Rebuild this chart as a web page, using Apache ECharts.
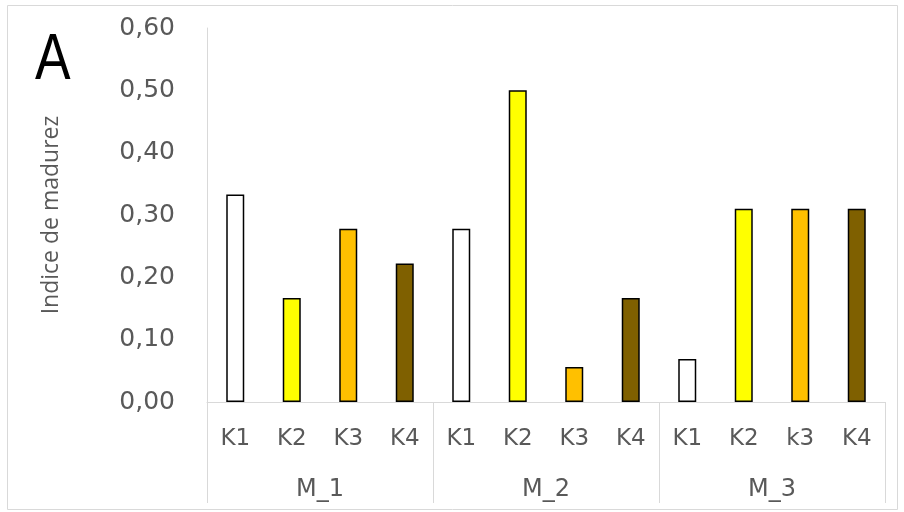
<!DOCTYPE html>
<html><head><meta charset="utf-8">
<script src="https://cdn.jsdelivr.net/npm/echarts@6/dist/echarts.min.js"></script>
<style>html,body{margin:0;padding:0;background:#fff}#c{width:904px;height:512px}</style>
</head><body><div id="c"></div>
<script>
const subCategories = ['K1','K2','K3','K4','K1','K2','K3','K4','K1','K2','k3','K4'];
const groups = ['M_1','M_2','M_3'];
const values = [0.333,0.167,0.278,0.222, 0.278,0.500,0.056,0.167, 0.069,0.310,0.310,0.310];
const kColors = ['#FFFFFF','#FFFF00','#FFC000','#7F6000'];
const yTicks = [0,0.1,0.2,0.3,0.4,0.5,0.6];

const chart = echarts.init(document.getElementById('c'));
const font = '"DejaVu Sans", "Open Sans", sans-serif';
chart.setOption({
  animation:false,
  grid:{left:207,right:19,top:28,bottom:110},
  graphic:[
    {type:'rect',shape:{x:7.5,y:5.5,width:890,height:504},style:{fill:'none',stroke:'#d9d9d9',lineWidth:1}},
    {type:'text',x:35,y:29,scaleX:0.82,style:{text:'A',x:0,y:0,fontSize:65,fontFamily:'"Liberation Sans", Arial, sans-serif',fill:'#000'}}
  ],
  xAxis:[
    {type:'category',data:subCategories,position:'bottom',
     axisLine:{lineStyle:{color:'#d9d9d9'}},axisTick:{show:false},
     axisLabel:{color:'#595959',fontSize:23,fontFamily:font,margin:26}},
    {type:'category',data:groups,position:'bottom',gridIndex:0,
     axisLine:{show:false},axisTick:{show:true,length:101,lineStyle:{color:'#d9d9d9'}},
     axisLabel:{color:'#595959',fontSize:24,fontFamily:font,margin:76}}
  ],
  yAxis:{type:'value',min:yTicks[0],max:yTicks[yTicks.length-1],interval:0.1,
    axisLine:{show:true,lineStyle:{color:'#d9d9d9'}},axisTick:{show:false},splitLine:{show:false},
    axisLabel:{color:'#595959',fontSize:25,fontFamily:font,margin:32,formatter:v=>v.toFixed(2).replace('.',',')},
    name:'Indice de madurez',nameLocation:'middle',nameGap:144,nameRotate:90,
    nameTextStyle:{color:'#595959',fontSize:23,fontFamily:'"Open Sans", sans-serif'}},
  series:[{type:'bar',xAxisIndex:0,barWidth:18,
    data:values.map((v,i)=>({value:v,itemStyle:{color:kColors[i%4],borderColor:'#000',borderWidth:1.5}}))}]
});
</script></body></html>
